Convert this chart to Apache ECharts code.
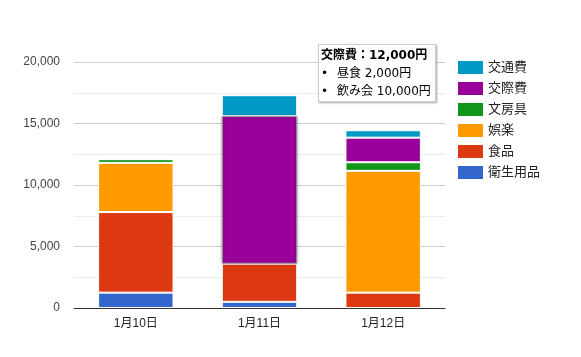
<!DOCTYPE html>
<html>
<head>
<meta charset="utf-8">
<script src="https://cdn.jsdelivr.net/npm/echarts@6/dist/echarts.min.js"></script>
<style>
html,body{margin:0;padding:0;background:#fff;}
#c{width:581px;height:357px;}
</style>
</head>
<body>
<div id="c"></div>
<script>
var categories = ['1月10日', '1月11日', '1月12日'];
var seriesNames = ['衛生用品', '食品', '娯楽', '文房具', '交際費', '交通費'];
var seriesColors = ['#3366cc', '#dc3912', '#ff9900', '#109618', '#990099', '#0099c6'];
var hygiene = [1250, 500, 0];
var food = [6550, 3100, 1250];
var fun = [4000, 0, 9900];
var stationery = [300, 0, 700];
var social = [0, 12000, 2000];
var transport = [0, 1700, 600];
var yTicks = [0, 5000, 10000, 15000, 20000];
var tipTitle = '交際費';
var tipTotal = 12000;
var tipItems = [['昼食', 2000], ['飲み会', 10000]];

var values = [hygiene, food, fun, stationery, social, transport];
function fmt(v){ return v.toLocaleString('en-US'); }

var chart = echarts.init(document.getElementById('c'), null, {renderer: 'canvas'});
var series = seriesNames.map(function(name, i){
  return {
    name: name,
    type: 'bar',
    stack: 'total',
    barWidth: '61%',
    data: values[i].map(function(v){ return v === 0 ? null : v; }),
    itemStyle: {color: seriesColors[i], borderColor: '#ffffff', borderWidth: 1},
    emphasis: {
      focus: 'none',
      itemStyle: {color: seriesColors[i], borderColor: '#999', borderWidth: 1, shadowBlur: 3, shadowColor: 'rgba(0,0,0,0.3)'}
    }
  };
});

chart.setOption({
  animation: false,
  textStyle: {fontFamily: '"Liberation Sans", Arial, "Noto Sans CJK JP", sans-serif'},
  grid: {left: 74, right: 136, top: 62, bottom: 49, containLabel: false},
  xAxis: {
    type: 'category',
    data: categories,
    axisLine: {lineStyle: {color: '#333', width: 1}},
    axisTick: {show: false},
    axisLabel: {color: '#222', fontSize: 12, margin: 10}
  },
  yAxis: {
    type: 'value',
    min: yTicks[0],
    max: yTicks[yTicks.length - 1],
    interval: 5000,
    axisLine: {show: false},
    axisTick: {show: false},
    axisLabel: {color: '#444', fontSize: 12, margin: 14, formatter: function(v){ return fmt(v); }},
    splitLine: {lineStyle: {color: '#cccccc'}},
    minorTick: {show: false, splitNumber: 2},
    minorSplitLine: {show: true, lineStyle: {color: '#ebebeb'}}
  },
  legend: {
    orient: 'vertical',
    left: 458,
    top: 61,
    padding: 0,
    itemWidth: 25,
    itemHeight: 13,
    itemGap: 8,
    icon: 'rect',
    data: seriesNames.slice().reverse(),
    itemStyle: {borderWidth: 0},
    textStyle: {color: '#222', fontSize: 13, lineHeight: 13}
  },
  tooltip: {
    trigger: 'item',
    triggerOn: 'none',
    alwaysShowContent: true,
    transitionDuration: 0,
    position: [318, 44],
    backgroundColor: '#fff',
    borderColor: '#cccccc',
    borderWidth: 1,
    padding: [1, 4, 1, 2],
    extraCssText: 'border-radius:0;box-shadow:1px 1px 2px rgba(0,0,0,0.35);',
    formatter: function(){
      var h = '<div style="font-family:\'DejaVu Sans\',\'Noto Sans CJK JP\',sans-serif;font-size:12px;color:#000;line-height:18px;">';
      h += '<div style="font-weight:bold;">' + tipTitle + '：' + fmt(tipTotal) + '円</div>';
      tipItems.forEach(function(it){
        h += '<div><span style="display:inline-block;width:16px;">•</span>' + it[0] + ' ' + fmt(it[1]) + '円</div>';
      });
      h += '</div>';
      return h;
    }
  },
  series: series
});

chart.dispatchAction({type: 'highlight', seriesIndex: 4, dataIndex: 1});
chart.dispatchAction({type: 'showTip', seriesIndex: 4, dataIndex: 1});
</script>
</body>
</html>
